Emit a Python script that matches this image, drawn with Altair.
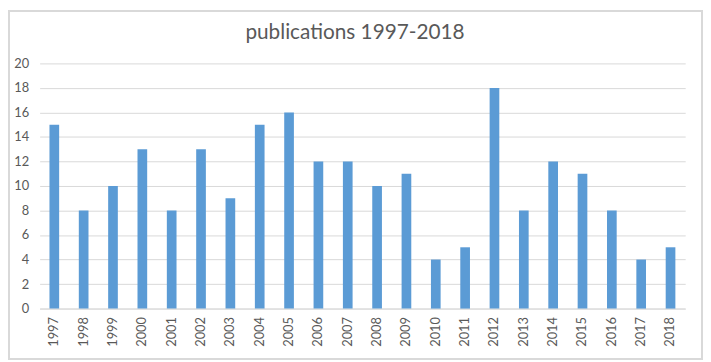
import altair as alt
import pandas as pd

years = [str(y) for y in range(1997, 2019)]
counts = [15, 8, 10, 13, 8, 13, 9, 15, 16, 12, 12, 10, 11, 4, 5, 18, 8, 12, 11, 8, 4, 5]
title_text = ["publications 1997-2018"]

df = pd.DataFrame({"year": years, "count": counts})

FONT = "Lato"
GREY = "#595959"

W, H = 653, 248
PL, PT, PR, PB = 32, 54, 18, 52

bars = alt.Chart(df).mark_bar(color="#5B9BD5").encode(
    x=alt.X("year:N", sort=years, title=None,
            scale=alt.Scale(paddingInner=0.67, paddingOuter=0.335),
            axis=alt.Axis(labelAngle=-90, labelAlign="right", labelBaseline="middle",
                          labelPadding=8, ticks=False, domainColor="#D9D9D9",
                          labelColor=GREY, labelFontSize=13, labelFont=FONT, grid=False)),
    y=alt.Y("count:Q", title=None,
            scale=alt.Scale(domain=[0, 20], nice=False),
            axis=alt.Axis(values=list(range(0, 21, 2)), ticks=False, domain=False,
                          gridColor="#D9D9D9", labelColor=GREY, labelFontSize=13,
                          labelFont=FONT, labelPadding=11)),
)

border = alt.Chart(df).mark_rect(fill=None, stroke="#D9D9D9", strokeWidth=1.5, clip=False).encode(
    x=alt.value(-PL + 1), x2=alt.value(W + PR - 1),
    y=alt.value(-PT + 1), y2=alt.value(H + PB - 1),
)

title = alt.Chart(pd.DataFrame({"t": title_text})).mark_text(
    font=FONT, fontSize=21, color=GREY, align="center", baseline="alphabetic"
).encode(text="t:N", x=alt.value(319), y=alt.value(-25))

chart = alt.layer(bars, border, title).properties(
    width=W, height=H,
    padding={"left": PL, "top": PT, "right": PR, "bottom": PB},
    autosize=alt.AutoSizeParams(type="none"),
).configure_view(stroke=None)

chart.save("out.html", embed_options={"renderer": "svg", "actions": False})
